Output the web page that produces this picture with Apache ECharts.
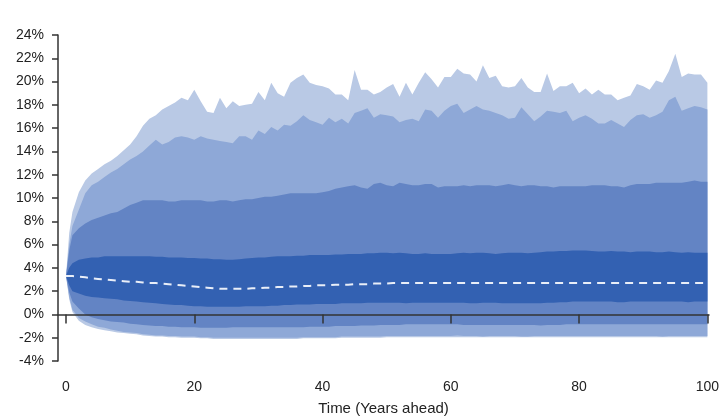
<!DOCTYPE html>
<html>
<head>
<meta charset="utf-8">
<script src="https://cdn.jsdelivr.net/npm/echarts@6/dist/echarts.min.js"></script>
<style>
  html, body { margin: 0; padding: 0; background: #fff; }
  #chart { width: 720px; height: 419px; }
</style>
</head>
<body>
<div id="chart"></div>
<script>
// years ahead
const years = [
  0, 0.5,
  1, 2, 3, 4, 5, 6, 7, 8, 9,
  10, 11, 12, 13, 14, 15, 16, 17, 18, 19,
  20, 21, 22, 23, 24, 25, 26, 27, 28, 29,
  30, 31, 32, 33, 34, 35, 36, 37, 38, 39,
  40, 41, 42, 43, 44, 45, 46, 47, 48, 49,
  50, 51, 52, 53, 54, 55, 56, 57, 58, 59,
  60, 61, 62, 63, 64, 65, 66, 67, 68, 69,
  70, 71, 72, 73, 74, 75, 76, 77, 78, 79,
  80, 81, 82, 83, 84, 85, 86, 87, 88, 89,
  90, 91, 92, 93, 94, 95, 96, 97, 98, 99,
  100
];
const xTicks = [0, 20, 40, 60, 80, 100];

// percentile paths (%)
const pct99 = [
  3.3, 7.0,
  8.8, 10.5, 11.5, 12.1, 12.5, 12.9, 13.2, 13.6, 14.1,
  14.6, 15.3, 16.2, 16.8, 17.1, 17.6, 17.9, 18.2, 18.6, 18.4,
  19.3, 18.3, 17.4, 17.3, 18.6, 17.7, 18.3, 17.9, 18.0, 18.1,
  19.1, 18.4, 19.9, 19.0, 18.7, 19.9, 20.3, 20.6, 19.9, 19.7,
  19.6, 19.4, 18.9, 18.9, 18.4, 21.0, 19.3, 19.3, 18.9, 19.1,
  19.5, 19.8, 18.7, 19.9, 18.9, 19.9, 20.8, 20.2, 19.5, 20.4,
  20.4, 21.1, 20.7, 20.6, 20.0, 21.4, 20.3, 20.5, 19.6, 19.5,
  19.6, 20.3, 19.5, 19.1, 19.1, 20.7, 19.2, 19.6, 19.6, 19.9,
  19.0, 19.4, 18.9, 19.3, 18.9, 18.9, 18.4, 18.6, 18.8, 19.8,
  19.6, 19.3, 20.1, 19.9, 20.9, 22.4, 20.4, 20.7, 20.6, 20.6,
  19.9
];
const pct95 = [
  3.3, 6.0,
  7.6, 9.0, 10.4, 11.1, 11.4, 11.8, 12.2, 12.5, 12.9,
  13.3, 13.6, 14.0, 14.5, 15.0, 14.6, 14.8, 15.2, 15.3, 15.2,
  15.0, 15.3, 15.1, 15.0, 14.9, 14.8, 14.7, 15.3, 15.3, 15.0,
  15.8, 15.5, 16.1, 15.8, 16.3, 16.2, 16.6, 17.1, 16.7, 16.5,
  16.3, 16.9, 16.5, 16.8, 16.4, 17.3, 17.5, 17.7, 16.9, 17.2,
  17.1, 17.0, 16.5, 16.7, 16.8, 16.6, 17.6, 17.5, 16.9, 17.5,
  17.9, 18.1, 17.3, 17.6, 17.9, 17.6, 17.5, 17.3, 17.1, 16.8,
  16.9, 17.8, 17.2, 16.6, 17.0, 17.5, 17.4, 17.3, 17.5, 16.6,
  16.9, 17.1, 16.8, 16.4, 16.4, 16.7, 16.4, 16.1, 16.7, 17.1,
  17.2, 16.9, 17.1, 17.4, 18.4, 18.7, 17.5, 17.7, 17.9, 17.8,
  17.6
];
const pct90 = [
  3.3, 5.5,
  6.8, 7.4, 7.8, 8.1, 8.3, 8.5, 8.7, 8.8, 9.1,
  9.4, 9.6, 9.8, 9.8, 9.8, 9.8, 9.7, 9.7, 9.8, 9.8,
  9.8, 9.8, 9.7, 9.7, 9.8, 9.8, 9.7, 9.8, 9.9, 9.9,
  10.0, 10.1, 10.1, 10.2, 10.3, 10.4, 10.4, 10.4, 10.4, 10.4,
  10.5, 10.6, 10.8, 10.9, 11.0, 11.1, 10.9, 10.8, 11.2, 11.3,
  11.1, 11.0, 11.3, 11.2, 11.1, 11.1, 11.2, 11.2, 10.9, 11.0,
  11.0, 11.0, 11.1, 11.0, 11.1, 11.1, 11.1, 11.0, 11.1, 11.2,
  11.1, 11.0, 11.1, 11.1, 11.0, 11.0, 10.9, 11.0, 11.0, 11.0,
  11.0, 11.0, 11.1, 11.1, 11.1, 11.0, 11.0, 10.9, 11.1, 11.2,
  11.2, 11.2, 11.3, 11.3, 11.3, 11.3, 11.3, 11.4, 11.5, 11.4,
  11.4
];
const pct75 = [
  3.3, 4.0,
  4.4, 4.7, 4.8, 4.9, 4.9, 5.0, 5.0, 5.0, 5.0,
  5.0, 5.0, 5.0, 5.0, 4.95, 4.95, 4.9, 4.9, 4.9, 4.85,
  4.85, 4.8, 4.8, 4.75, 4.75, 4.7, 4.7, 4.75, 4.8, 4.85,
  4.9, 4.9, 4.95, 5.0, 5.0, 5.0, 5.05, 5.05, 5.1, 5.1,
  5.1, 5.1, 5.15, 5.15, 5.2, 5.2, 5.2, 5.25, 5.25, 5.3,
  5.3, 5.25, 5.3, 5.25, 5.2, 5.2, 5.25, 5.2, 5.2, 5.2,
  5.2, 5.25, 5.3, 5.25, 5.3, 5.3, 5.25, 5.2, 5.25, 5.3,
  5.3, 5.3, 5.25, 5.3, 5.35, 5.4, 5.4, 5.45, 5.45, 5.5,
  5.5, 5.5, 5.45, 5.4, 5.4, 5.45, 5.4, 5.4, 5.35, 5.4,
  5.4, 5.4, 5.35, 5.35, 5.4, 5.35, 5.3, 5.35, 5.3, 5.3,
  5.3
];
const pct50 = [
  3.3, 3.3,
  3.3, 3.25, 3.2, 3.1, 3.05, 3.0, 2.95, 2.9, 2.85,
  2.8, 2.8, 2.75, 2.7, 2.7, 2.65, 2.6, 2.55, 2.5, 2.45,
  2.4, 2.35, 2.3, 2.25, 2.2, 2.2, 2.2, 2.2, 2.2, 2.25,
  2.25, 2.3, 2.3, 2.35, 2.35, 2.4, 2.4, 2.45, 2.45, 2.5,
  2.5, 2.5, 2.55, 2.55, 2.55, 2.6, 2.6, 2.6, 2.65, 2.65,
  2.65, 2.7, 2.7, 2.7, 2.7, 2.7, 2.7, 2.7, 2.7, 2.7,
  2.7, 2.7, 2.7, 2.7, 2.7, 2.7, 2.7, 2.7, 2.7, 2.7,
  2.7, 2.7, 2.7, 2.7, 2.7, 2.7, 2.7, 2.7, 2.7, 2.7,
  2.7, 2.7, 2.7, 2.7, 2.7, 2.7, 2.7, 2.7, 2.7, 2.7,
  2.7, 2.7, 2.7, 2.7, 2.7, 2.7, 2.7, 2.7, 2.7, 2.7,
  2.7
];
const pct25 = [
  3.3, 2.5,
  2.0, 1.8, 1.6, 1.5, 1.45, 1.4, 1.35, 1.3, 1.2,
  1.15, 1.1, 1.05, 1.0, 0.95, 0.9, 0.85, 0.8, 0.8, 0.75,
  0.7, 0.7, 0.65, 0.65, 0.65, 0.65, 0.65, 0.65, 0.7, 0.7,
  0.7, 0.7, 0.75, 0.75, 0.8, 0.8, 0.85, 0.85, 0.85, 0.9,
  0.9, 0.9, 0.9, 0.95, 0.95, 0.95, 0.95, 1.0, 1.0, 1.0,
  1.0, 1.0, 1.0, 0.95, 1.0, 1.0, 1.0, 1.0, 1.0, 1.0,
  1.0, 1.0, 1.0, 0.95, 0.95, 1.0, 1.0, 1.0, 0.95, 0.95,
  0.95, 0.95, 0.95, 0.95, 0.95, 1.0, 1.0, 1.05, 1.05, 1.1,
  1.1, 1.1, 1.1, 1.1, 1.1, 1.1, 1.05, 1.05, 1.1, 1.1,
  1.1, 1.1, 1.1, 1.1, 1.1, 1.1, 1.1, 1.05, 1.1, 1.1,
  1.1
];
const pct10 = [
  3.3, 1.9,
  1.1, 0.5, 0.0, -0.25, -0.4, -0.5, -0.6, -0.65, -0.7,
  -0.8, -0.85, -0.9, -0.95, -1.0, -1.0, -1.05, -1.05, -1.1, -1.1,
  -1.1, -1.15, -1.15, -1.15, -1.15, -1.15, -1.1, -1.1, -1.1, -1.1,
  -1.1, -1.1, -1.1, -1.1, -1.1, -1.1, -1.1, -1.1, -1.05, -1.05,
  -1.05, -1.05, -1.0, -1.0, -1.0, -1.0, -0.95, -0.95, -0.95, -0.9,
  -0.9, -0.9, -0.9, -0.85, -0.85, -0.85, -0.85, -0.85, -0.85, -0.85,
  -0.85, -0.85, -0.9, -0.9, -0.9, -0.9, -0.9, -0.9, -0.9, -0.9,
  -0.9, -0.9, -0.9, -0.9, -0.95, -0.9, -0.9, -0.9, -0.85, -0.85,
  -0.85, -0.85, -0.85, -0.85, -0.85, -0.85, -0.85, -0.85, -0.85, -0.85,
  -0.85, -0.85, -0.85, -0.85, -0.85, -0.85, -0.85, -0.85, -0.85, -0.85,
  -0.85
];
const pct5 = [
  3.3, 1.5,
  0.4, -0.3, -0.6, -0.85, -1.05, -1.15, -1.3, -1.4, -1.5,
  -1.55, -1.6, -1.7, -1.75, -1.8, -1.8, -1.85, -1.85, -1.9, -1.9,
  -1.9, -1.95, -1.95, -2.0, -2.0, -2.0, -2.0, -2.0, -2.0, -2.0,
  -2.0, -2.0, -2.0, -2.0, -2.0, -2.0, -2.0, -1.95, -1.95, -1.95,
  -1.95, -1.95, -1.95, -1.9, -1.9, -1.9, -1.9, -1.9, -1.9, -1.9,
  -1.85, -1.85, -1.85, -1.85, -1.85, -1.85, -1.85, -1.85, -1.85, -1.85,
  -1.85, -1.8, -1.85, -1.85, -1.85, -1.9, -1.85, -1.85, -1.85, -1.85,
  -1.85, -1.9, -1.9, -1.85, -1.85, -1.85, -1.85, -1.85, -1.85, -1.85,
  -1.85, -1.85, -1.85, -1.85, -1.85, -1.85, -1.85, -1.85, -1.85, -1.85,
  -1.85, -1.85, -1.85, -1.9, -1.85, -1.85, -1.85, -1.85, -1.85, -1.85,
  -1.85
];
const pct1 = [
  3.3, 1.3,
  0.2, -0.55, -0.9, -1.1, -1.25, -1.35, -1.45, -1.55, -1.6,
  -1.65, -1.7, -1.8, -1.85, -1.9, -1.9, -1.95, -1.95, -2.0, -2.0,
  -2.0, -2.05, -2.05, -2.1, -2.1, -2.1, -2.1, -2.1, -2.1, -2.1,
  -2.1, -2.1, -2.1, -2.1, -2.1, -2.1, -2.1, -2.05, -2.05, -2.05,
  -2.05, -2.05, -2.05, -2.0, -2.0, -2.0, -2.0, -2.0, -2.0, -2.0,
  -1.95, -1.95, -1.95, -1.95, -1.95, -1.95, -1.95, -1.95, -1.95, -1.95,
  -1.95, -1.95, -1.95, -1.95, -1.95, -1.95, -1.95, -1.95, -1.95, -1.95,
  -1.95, -1.95, -1.95, -1.95, -1.95, -1.95, -1.95, -1.95, -1.95, -1.95,
  -1.95, -1.95, -1.95, -1.95, -1.95, -1.95, -1.95, -1.95, -1.95, -1.95,
  -1.95, -1.95, -1.95, -1.95, -1.95, -1.95, -1.95, -1.95, -1.95, -1.95,
  -1.95
];

const axisColor = '#333';
const font = 'Arial, "Liberation Sans", sans-serif';

// fill the area between two percentile paths
function band(upper, lower, color) {
  return {
    type: 'custom',
    coordinateSystem: 'cartesian2d',
    silent: true,
    z: 2,
    data: [[0, lower[0]]],
    renderItem: function (params, api) {
      let pts = [];
      for (let k = 0; k < years.length; k++) pts.push(api.coord([years[k], upper[k]]));
      for (let k = years.length - 1; k >= 0; k--) pts.push(api.coord([years[k], lower[k]]));
      return { type: 'polygon', shape: { points: pts }, style: { fill: color } };
    }
  };
}

let myChart = echarts.init(document.getElementById('chart'));
let option = {
  animation: false,
  backgroundColor: '#fff',
  grid: { left: 58, right: 11, top: 35, bottom: 58, containLabel: false, outerBoundsMode: 'none' },
  xAxis: [{
    type: 'value',
    min: -1.25,
    max: 100.25,
    z: 5,
    axisLine: { show: true, onZero: true, lineStyle: { color: axisColor, width: 1.5 } },
    axisTick: { show: true, customValues: xTicks, length: 9, lineStyle: { color: axisColor, width: 1.5 } },
    axisLabel: { show: false },
    splitLine: { show: false }
  }, {
    type: 'value',
    position: 'bottom',
    min: -1.25,
    max: 100.25,
    axisLine: { show: false, onZero: false },
    axisTick: { show: false },
    axisLabel: { customValues: xTicks, margin: 19, color: '#222', fontSize: 14, fontFamily: font },
    splitLine: { show: false },
    name: 'Time (Years ahead)',
    nameLocation: 'middle',
    nameGap: 40,
    nameTextStyle: { color: '#222', fontSize: 15, fontFamily: font }
  }],
  yAxis: {
    type: 'value',
    min: -4,
    max: 24,
    interval: 2,
    z: 5,
    axisLine: { show: true, onZero: false, lineStyle: { color: axisColor, width: 1.5 } },
    axisTick: { show: true, length: 6, lineStyle: { color: axisColor, width: 1.5 } },
    axisLabel: { formatter: '{value}%', margin: 14, color: '#222', fontSize: 14, fontFamily: font },
    splitLine: { show: false }
  },
  series: [
    band(pct99, pct1, '#b9c9e5'),
    band(pct95, pct5, '#8ea8d7'),
    band(pct90, pct10, '#6384c4'),
    band(pct75, pct25, '#3361b2'),
    {
      type: 'line',
      data: years.map((y, k) => [y, pct50[k]]),
      symbol: 'none',
      silent: true,
      z: 4,
      lineStyle: { color: '#e9eef8', width: 2, type: [8, 6] }
    }
  ]
};
myChart.setOption(option);
</script>
</body>
</html>
